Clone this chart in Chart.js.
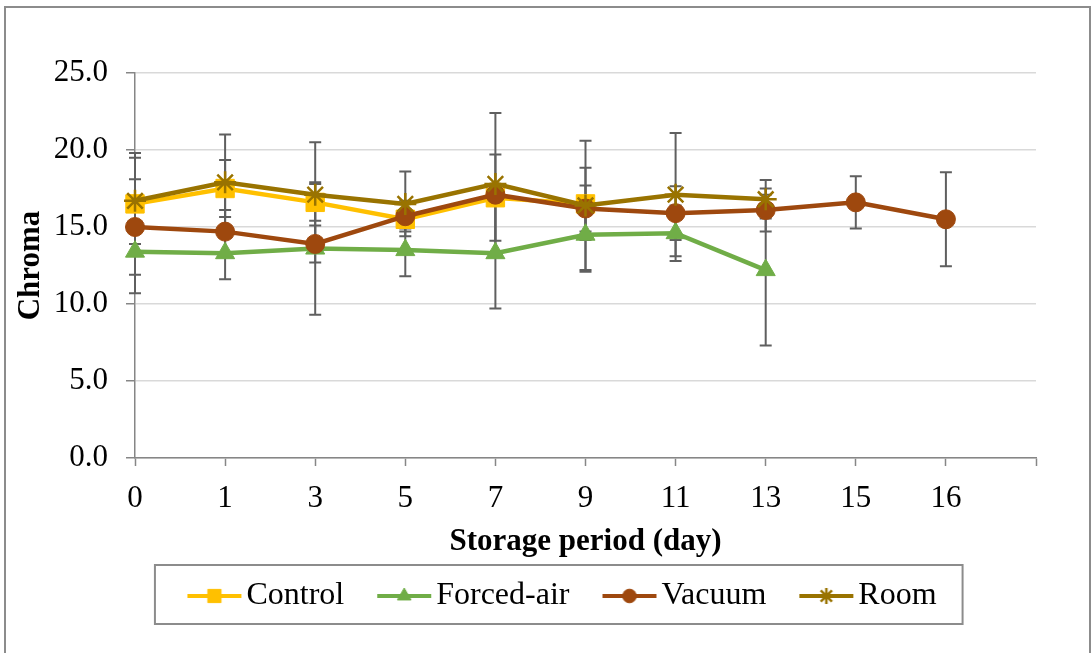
<!DOCTYPE html>
<html>
<head>
<meta charset="utf-8">
<script src="https://cdn.jsdelivr.net/npm/chart.js@4/dist/chart.umd.min.js"></script>
<style>
  html, body { margin: 0; padding: 0; background: #fff; }
  canvas { display: block; }
</style>
</head>
<body>
<canvas id="chroma" width="1092" height="653"></canvas>
<script>
// storage days (last slot is empty, axis runs one step past day 16)
const days = ['0', '1', '3', '5', '7', '9', '11', '13', '15', '16', ''];

const control = [16.5, 17.5, 16.6, 15.5, 16.9, 16.5];
const controlErr = [3.3, 1.85, 1.2, 0.6, 2.8, 2.35];

const forcedAir = [13.4, 13.3, 13.6, 13.5, 13.3, 14.5, 14.6, 12.2];
const forcedAirErr = [2.7, 1.7, 4.3, 1.7, 3.6, 2.4, 1.8, 4.9];

const vacuum = [15.0, 14.7, 13.9, 15.7, 17.1, 16.2, 15.9, 16.1, 16.6, 15.5];
const vacuumErr = [3.1, 1.4, 1.2, 1.0, 0.5, 1.5, 1.75, 1.4, 1.7, 3.05];

const room = [16.7, 17.9, 17.1, 16.5, 17.8, 16.4, 17.1, 16.8];
const roomErr = [2.8, 3.1, 3.4, 2.1, 4.6, 4.2, 4.0, 1.25];

const yTicks = [0, 5, 10, 15, 20, 25];

const serif = "'Liberation Serif', 'Times New Roman', serif";
Chart.defaults.font.family = serif;
Chart.defaults.color = '#000';

function series(label, values, errors, color, style, radius, order) {
    return {
        label: label,
        data: values,
        errors: errors,
        order: order,
        borderColor: color,
        backgroundColor: color,
        borderWidth: 4.5,
        tension: 0,
        fill: false,
        pointStyle: style,
        pointRadius: radius,
        pointHoverRadius: radius,
        pointBackgroundColor: color,
        pointBorderColor: color,
        pointBorderWidth: style === 'star' ? 2.5 : 1,
    };
}

const datasets = [
    series('Control', control, controlErr, '#FFC000', 'rect', 13, 4),
    series('Forced-air', forcedAir, forcedAirErr, '#70AD47', 'triangle', 11, 3),
    series('Vacuum', vacuum, vacuumErr, '#9E480E', 'circle', 9.5, 2),
    series('Room', room, roomErr, '#997300', 'star', 11, 1),
];

// line+marker picture for each legend entry, drawn in the right part of a
// wider canvas so that the gap before the text stays small
function legendIcon(ds) {
    const c = document.createElement('canvas');
    c.width = 81;
    c.height = 26;
    const g = c.getContext('2d');
    g.strokeStyle = ds.borderColor;
    g.fillStyle = ds.borderColor;
    g.lineWidth = 4;
    g.beginPath();
    g.moveTo(26, 13);
    g.lineTo(80, 13);
    g.stroke();
    g.lineWidth = ds.pointBorderWidth;
    Chart.helpers.drawPoint(g, {
        pointStyle: ds.pointStyle,
        radius: ds.pointRadius * 0.72,
        borderWidth: ds.pointBorderWidth,
        rotation: 0,
    }, 53, 13);
    return c;
}

const errorBars = {
    id: 'errorBars',
    beforeDatasetsDraw(chart) {
        const ctx = chart.ctx;
        const x = chart.scales.x;
        const y = chart.scales.y;
        ctx.save();
        ctx.strokeStyle = '#5f5f5f';
        ctx.lineWidth = 2;
        chart.data.datasets.forEach(ds => {
            ds.data.forEach((v, i) => {
                const e = ds.errors[i];
                if (v == null || e == null) return;
                const px = x.getPixelForValue(i);
                const hi = y.getPixelForValue(v + e);
                const lo = y.getPixelForValue(v - e);
                ctx.beginPath();
                ctx.moveTo(px, hi);
                ctx.lineTo(px, lo);
                ctx.moveTo(px - 6, hi);
                ctx.lineTo(px + 6, hi);
                ctx.moveTo(px - 6, lo);
                ctx.lineTo(px + 6, lo);
                ctx.stroke();
            });
        });
        ctx.restore();
    }
};

const frames = {
    id: 'frames',
    afterLayout(chart) {
        chart.legend.left += 32;
        chart.legend.right += 32;
    },
    afterDraw(chart) {
        const ctx = chart.ctx;
        const lg = chart.legend;
        ctx.save();
        ctx.strokeStyle = '#8c8c8c';
        ctx.lineWidth = 2;
        ctx.strokeRect(5, 7, 1085, 660);
        const boxes = lg.legendHitBoxes;
        if (boxes && boxes.length) {
            const l = Math.min(...boxes.map(b => b.left)) - 18.5;
            const r = Math.max(...boxes.map(b => b.left + b.width)) + 26;
            ctx.strokeRect(l, lg.top + 4, r - l, 59);
        }
        ctx.restore();
    }
};

const config = {
    type: 'line',
    data: {
        labels: days,
        datasets: datasets,
    },
    options: {
        responsive: false,
        animation: false,
        layout: {
            padding: { left: 10, right: 56, top: 73, bottom: 31 }
        },
        plugins: {
            tooltip: { enabled: false },
            legend: {
                position: 'bottom',
                labels: {
                    usePointStyle: true,
                    pointStyleWidth: 57,
                    padding: 19,
                    color: '#000',
                    font: { size: 32, family: serif },
                    generateLabels: chart => chart.data.datasets.map((ds, i) => ({
                        text: ds.label,
                        fillStyle: ds.borderColor,
                        strokeStyle: ds.borderColor,
                        lineWidth: 0,
                        pointStyle: legendIcon(ds),
                        datasetIndex: i,
                        hidden: false,
                        fontColor: '#000',
                    })),
                }
            }
        },
        scales: {
            x: {
                offset: false,
                afterFit: s => { s.height = 103; },
                grid: {
                    display: true,
                    drawOnChartArea: false,
                    drawTicks: true,
                    tickLength: 8,
                    tickColor: '#868686',
                    tickWidth: 1.5,
                    offset: false,
                },
                border: { display: true, color: '#868686', width: 1.5 },
                ticks: {
                    autoSkip: false,
                    maxRotation: 0,
                    padding: 14,
                    color: '#000',
                    font: { size: 31 },
                },
                title: {
                    display: true,
                    text: 'Storage period (day)',
                    color: '#000',
                    padding: 0,
                    font: { size: 31, weight: 'bold' },
                }
            },
            y: {
                min: yTicks[0],
                max: yTicks[yTicks.length - 1],
                afterFit: s => { s.width = 125; },
                grid: {
                    color: '#d9d9d9',
                    lineWidth: 1.5,
                    tickLength: 9,
                    tickColor: '#868686',
                    tickWidth: 1.5,
                },
                border: { display: true, color: '#868686', width: 1.5 },
                ticks: {
                    stepSize: yTicks[1] - yTicks[0],
                    padding: 18,
                    color: '#000',
                    font: { size: 31 },
                    callback: v => v.toFixed(1),
                },
                title: {
                    display: true,
                    text: 'Chroma',
                    color: '#000',
                    padding: { top: 2, bottom: 0 },
                    font: { size: 31, weight: 'bold' },
                }
            }
        }
    },
    plugins: [errorBars, frames]
};

const chroma = new Chart(
    document.getElementById('chroma'),
    config
);
</script>
</body>
</html>
